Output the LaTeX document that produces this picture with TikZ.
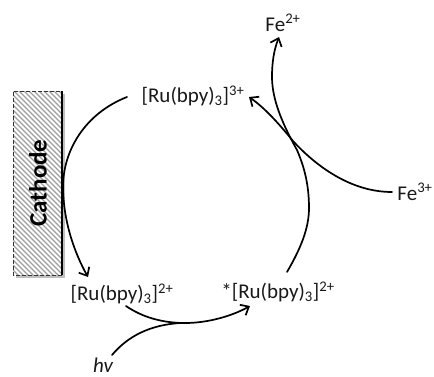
\documentclass[tikz,border=0pt]{standalone}
\usepackage{fontspec}
\setmainfont{Carlito}
\usetikzlibrary{arrows.meta}
\tikzset{
  lbl/.style={inner sep=0pt,font=\fontsize{21}{24}\selectfont,text=black!90},
  arc/.style={draw=black,line width=1.7pt,line cap=round},
  head/.style={arc,-{Straight Barb[length=7pt,width=12pt,line width=1.7pt]}},
  hatch/.style={draw=black!38,line width=1.3pt}
}
\newcommand{\rubpy}[1]{[Ru(bpy)\textsubscript{3}]\textsuperscript{#1}}
\begin{document}
\begin{tikzpicture}[x=1pt,y=-1pt]
\path[use as bounding box] (0,0) rectangle (434,376);
% cathode
\fill[black!25] (16,94) rectangle (65,278);
\fill[white] (13,91) rectangle (62,275);
\begin{scope}
\clip (13,91) rectangle (62,275);
\foreach \i in {-40,-35,...,280} \draw[hatch] (13,\i) -- (62,\i+49);
\end{scope}
\draw[black!80,line width=0.8pt,dash pattern=on 4pt off 2pt] (62,275) -- (13,275) -- (13,91) -- (62,91);
\draw[black,line width=2pt] (62,91) -- (62,275);
\node[rotate=90,inner sep=0pt,font=\bfseries\fontsize{25}{28}\selectfont] (cath) at (38,183) {Cathode};
% labels
\node[lbl] (ru3) at (193,96) {\rubpy{3+}};
\node[lbl] (ru2) at (122,294) {\rubpy{2+}};
\node[lbl] (ru2s) at (278,292) {*\rubpy{2+}};
\node[lbl] (fe2) at (283,23) {Fe\textsuperscript{2+}};
\node[lbl] (fe3) at (415,192) {Fe\textsuperscript{3+}};
\node[lbl,font=\itshape\fontsize{21}{24}\selectfont] (hv) at (103,365) {hv};
% connectors
\coordinate (a1) at (127,97);
\coordinate (a2) at (88,277);
\draw[head] (a1) .. controls (86,113) and (62,150) .. (63,190) .. controls (64,222) and (74,252) .. (a2);
\coordinate (b1) at (287,272);
\coordinate (b2) at (279,37);
\draw[head] (b1) .. controls (301,248) and (309,228) .. (309,208) .. controls (309,182) and (303,164) .. (297,150) .. controls (283,125) and (272,100) .. (272,77) .. controls (272,62) and (274,50) .. (b2);
\coordinate (c1) at (392,192);
\coordinate (c2) at (249,97);
\draw[head] (c1) .. controls (350,192) and (315,165) .. (293,141) .. controls (280,125) and (265,108) .. (c2);
\coordinate (d1) at (126,306);
\coordinate (d2) at (250,306);
\draw[head] (d1) .. controls (142,317) and (162,323) .. (185,323) .. controls (208,323) and (232,316) .. (d2);
\coordinate (e1) at (112,355);
\coordinate (e2) at (180,323);
\draw[arc] (e1) .. controls (128,336) and (150,325) .. (e2);
\end{tikzpicture}
\end{document}
